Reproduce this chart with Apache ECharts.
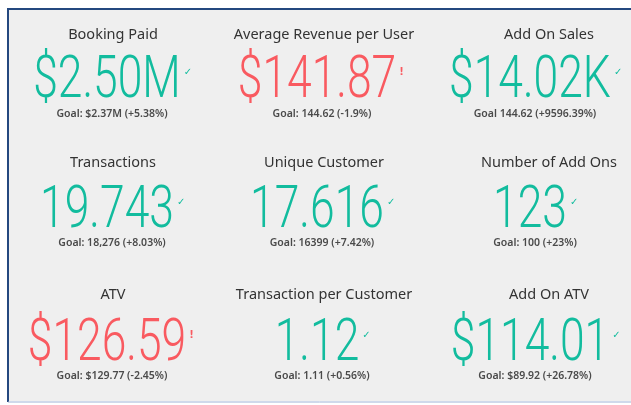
<!DOCTYPE html>
<html>
<head>
<meta charset="utf-8">
<script src="https://cdn.jsdelivr.net/npm/echarts@6/dist/echarts.min.js"></script>
<style>
  html, body { margin: 0; padding: 0; background: #fff; }
  #chart { width: 631px; height: 405px; }
</style>
</head>
<body>
<div id="chart"></div>
<script>
// kpi cards, row by row
let titles = ["Booking Paid", "Average Revenue per User", "Add On Sales",
  "Transactions", "Unique Customer", "Number of Add Ons",
  "ATV", "Transaction per Customer", "Add On ATV"];
let values = ["$2.50M", "$141.87", "$14.02K", "19.743", "17.616", "123", "$126.59", "1.12", "$114.01"];
let goals = ["Goal: $2.37M (+5.38%)", "Goal: 144.62 (-1.9%)", "Goal 144.62 (+9596.39%)",
  "Goal: 18,276 (+8.03%)", "Goal: 16399 (+7.42%)", "Goal: 100 (+23%)",
  "Goal: $129.77 (-2.45%)", "Goal: 1.11 (+0.56%)", "Goal: $89.92 (+26.78%)"];
let onTarget = [true, false, true, true, true, true, false, true, true];

let green = "#12BC9E";
let red = "#F95A60";

let titleX = [113, 324, 549];
let valueX = [112, 322, 535];
let titleY = [35, 163, 295];
let valueY = [82, 212, 345];
let goalY = [114, 243, 376];

let bigFont = '300 60px Roboto';
let sx = 0.74;

let ctx = document.createElement("canvas").getContext("2d");
ctx.font = bigFont;

let els = [
  // panel
  { type: "rect", shape: { x: 8, y: 9, width: 640, height: 392 }, style: { fill: "#efefef" }, z: 0 },
  { type: "line", shape: { x1: 8, y1: 9, x2: 631, y2: 9 }, style: { stroke: "#24487f", lineWidth: 2 }, z: 1 },
  { type: "line", shape: { x1: 8, y1: 8, x2: 8, y2: 402 }, style: { stroke: "#24487f", lineWidth: 2 }, z: 1 },
  { type: "line", shape: { x1: 8, y1: 402, x2: 631, y2: 402 }, style: { stroke: "#9fb3d6", lineWidth: 1 }, z: 1 },
];

for (let i = 0; i < titles.length; i++) {
  let r = Math.floor(i / 3), c = i % 3;
  let col = onTarget[i] ? green : red;
  els.push({
    type: "text", x: titleX[c], y: titleY[r], z: 2,
    style: { text: titles[i], fill: "#333", font: '14.5px "Noto Sans"', textAlign: "center", textVerticalAlign: "middle" }
  });
  let w = ctx.measureText(values[i]).width * sx;
  let total = w + 10;
  let left = valueX[c] - total / 2;
  els.push({
    type: "text", x: left, y: valueY[r], scaleX: sx, z: 2,
    style: { text: values[i], fill: col, font: bigFont, textAlign: "left", textVerticalAlign: "middle" }
  });
  els.push({
    type: "text", x: left + w + 3, y: valueY[r] - 10, z: 2,
    style: { text: onTarget[i] ? "✓" : "!", fill: col, font: onTarget[i] ? '10px "DejaVu Sans"' : 'bold 10px "DejaVu Sans"', textAlign: "left", textVerticalAlign: "middle" }
  });
  els.push({
    type: "text", x: valueX[c], y: goalY[r], z: 2,
    style: { text: goals[i], fill: "#4a4a4a", font: '600 10.5px "Noto Sans"', textAlign: "center", textVerticalAlign: "middle" }
  });
}

let chart = echarts.init(document.getElementById("chart"));
chart.setOption({
  backgroundColor: "#fff",
  graphic: { elements: els }
});
</script>
</body>
</html>
